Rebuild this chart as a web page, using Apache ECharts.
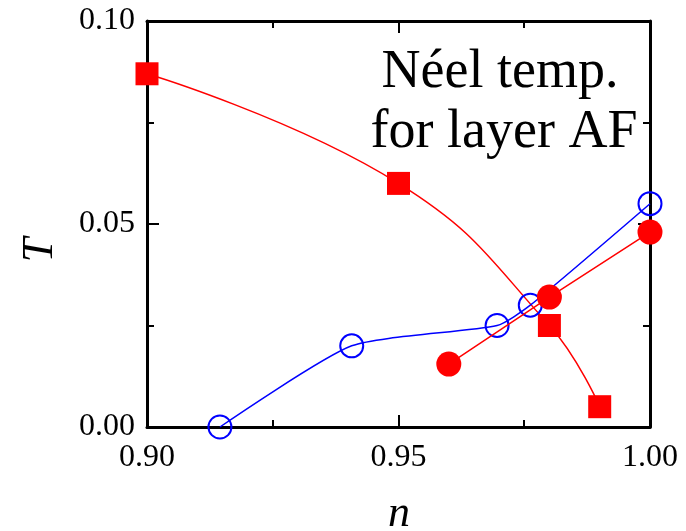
<!DOCTYPE html>
<html><head><meta charset="utf-8">
<script src="https://cdn.jsdelivr.net/npm/echarts@6/dist/echarts.min.js"></script>
<style>html,body{margin:0;padding:0;background:#fff}#c{width:686px;height:531px}</style>
</head><body><div id="c"></div>
<script>
// Data
const squareN = [0.90, 0.95, 0.98, 0.99];
const squareT = [0.087, 0.060, 0.025, 0.005];
const openCircleN = [0.9145, 0.9407, 0.9696, 0.9762, 1.00];
const openCircleT = [0.000, 0.020, 0.025, 0.030, 0.055];
const filledCircleN = [0.96, 0.98, 1.00];
const filledCircleT = [0.0155, 0.032, 0.048];
const xTicks = ['0.90', '0.95', '1.00'];
const yTicks = ['0.00', '0.05', '0.10'];
const annotation = ['Néel temp.', 'for layer AF'];

const pair = (xs, ys) => xs.map((x, i) => [x, ys[i]]);
const serif = '"Liberation Serif", "Times New Roman", serif';

const chart = echarts.init(document.getElementById('c'), null, {renderer: 'canvas'});
const axisCommon = {
  axisLine: {show: true, onZero: false, lineStyle: {color: '#000', width: 3}},
  axisTick: {show: true, inside: true, length: 12, lineStyle: {color: '#000', width: 2}},
  minorTick: {show: true, splitNumber: 2, length: 7, lineStyle: {color: '#000', width: 2}},
  splitLine: {show: false}
};
chart.setOption({
  animation: false,
  backgroundColor: '#fff',
  grid: {left: 147, right: 36, top: 21, bottom: 104, containLabel: false},
  xAxis: [
    Object.assign({type: 'value', min: 0.9, max: 1.0, interval: 0.05, position: 'bottom',
      axisLabel: {show: true, margin: 15, fontFamily: serif, fontSize: 32, color: '#000',
        formatter: v => { const s = v.toFixed(2); return xTicks.includes(s) ? s : ''; }}}, axisCommon),
    Object.assign({type: 'value', min: 0.9, max: 1.0, interval: 0.05, position: 'top',
      axisLabel: {show: false}}, axisCommon)
  ],
  yAxis: [
    Object.assign({type: 'value', min: 0, max: 0.1, interval: 0.05, position: 'left',
      axisLabel: {show: true, margin: 12, fontFamily: serif, fontSize: 32, color: '#000',
        formatter: v => { const s = v.toFixed(2); return yTicks.includes(s) ? s : ''; }}}, axisCommon),
    Object.assign({type: 'value', min: 0, max: 0.1, interval: 0.05, position: 'right',
      axisLabel: {show: false}}, axisCommon)
  ],
  series: [
    {type: 'line', data: pair(squareN, squareT), smooth: 0.45, clip: false,
      symbol: 'rect', symbolSize: 23,
      lineStyle: {color: '#ff0000', width: 1.5}, itemStyle: {color: '#ff0000'}, z: 3},
    {type: 'line', data: pair(openCircleN, openCircleT), smooth: 0.2, clip: false,
      symbol: 'circle', symbolSize: 23,
      lineStyle: {color: '#0000ff', width: 1.5},
      itemStyle: {color: 'rgba(255,255,255,0)', borderColor: '#0000ff', borderWidth: 2}, z: 4},
    {type: 'line', data: pair(filledCircleN, filledCircleT), smooth: false, clip: false,
      symbol: 'circle', symbolSize: 25,
      lineStyle: {color: '#ff0000', width: 1.5}, itemStyle: {color: '#ff0000'}, z: 5}
  ],
  graphic: [
    {type: 'text', x: 0, y: 0, style: {text: annotation[0], x: 500, y: 73, align: 'center', verticalAlign: 'middle',
      font: '54px ' + serif, fill: '#000'}},
    {type: 'text', x: 0, y: 0, style: {text: annotation[1], x: 504, y: 133, align: 'center', verticalAlign: 'middle',
      font: '54px ' + serif, fill: '#000'}},
    {type: 'text', x: 0, y: 0, style: {text: 'n', x: 399, y: 514, align: 'center', verticalAlign: 'middle',
      font: 'italic 44px ' + serif, fill: '#000'}},
    {type: 'text', rotation: Math.PI / 2, x: 40, y: 250, style: {text: 'T', x: 0, y: 0, align: 'center', verticalAlign: 'middle',
      font: 'italic 44px ' + serif, fill: '#000'}}
  ]
});
</script></body></html>
